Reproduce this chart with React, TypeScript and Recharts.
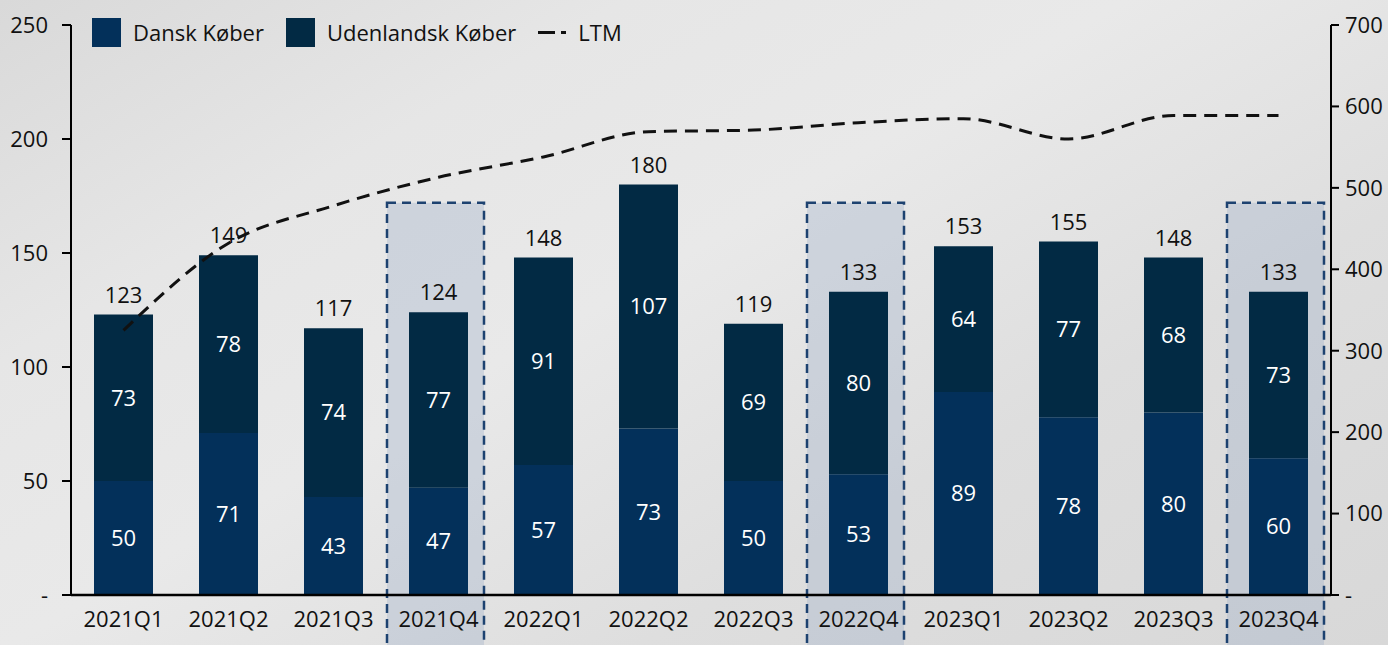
import { ComposedChart, Bar, Line, XAxis, YAxis, ReferenceArea, LabelList } from 'recharts';

const quarters = ['2021Q1', '2021Q2', '2021Q3', '2021Q4', '2022Q1', '2022Q2', '2022Q3', '2022Q4', '2023Q1', '2023Q2', '2023Q3', '2023Q4'];
const danskKober = [50, 71, 43, 47, 57, 73, 50, 53, 89, 78, 80, 60];
const udenlandskKober = [73, 78, 74, 77, 91, 107, 69, 80, 64, 77, 68, 73];
const ltm = [325, 432, 478, 513, 538, 569, 571, 580, 585, 560, 589, 589];
const highlighted = ['2021Q4', '2022Q4', '2023Q4'];
const highlightTop = 172;
const highlightBottom = -30;
const leftTicks = [0, 50, 100, 150, 200, 250];
const rightTicks = [0, 100, 200, 300, 400, 500, 600, 700];

const data = quarters.map((q, i) => ({
    quarter: q,
    dansk: danskKober[i],
    udenlandsk: udenlandskKober[i],
    total: danskKober[i] + udenlandskKober[i],
    ltm: ltm[i],
}));

const DANSK = '#03305a';
const UDENLANDSK = '#022a44';
const FONT = '"Open Sans", "Noto Sans", sans-serif';
const FS = 22;

const HighlightShape = (props: any) => {
    const { x, y, width, height } = props;
    return (
        <rect
            x={x + 1}
            y={y}
            width={width - 8}
            height={height}
            fill="#9fb0c8"
            fillOpacity={0.35}
            stroke="#1d4270"
            strokeWidth={2.5}
            strokeDasharray="9 6"
        />
    );
};

const zeroDash = (v: number) => (v === 0 ? '-' : String(v));

const legendItem = { display: 'flex', alignItems: 'center', marginRight: 22 } as const;

const App = () => {
    return (
        <div
            style={{
                position: 'absolute',
                left: 0,
                top: 0,
                width: 1388,
                height: 645,
                overflow: 'hidden',
                fontFamily: FONT,
                background:
                    'linear-gradient(150deg, #d9d9d9 0%, #e6e6e6 25%, #e9e9e9 45%, #dedede 70%, #d8d8d8 100%)',
            }}
        >
            <ComposedChart
                width={1388}
                height={645}
                data={data}
                barCategoryGap={0}
                margin={{ top: 25, right: 0, bottom: 0, left: 0 }}
            >
                {highlighted.map((q) => (
                    <ReferenceArea
                        key={q}
                        yAxisId="left"
                        x1={q}
                        x2={q}
                        y1={highlightBottom}
                        y2={highlightTop}
                        ifOverflow="visible"
                        shape={HighlightShape}
                    />
                ))}
                <XAxis
                    dataKey="quarter"
                    height={50}
                    tickLine={false}
                    tickSize={0}
                    tickMargin={16}
                    axisLine={{ stroke: '#000', strokeWidth: 2.5 }}
                    tick={{ fill: '#111', fontSize: FS }}
                    interval={0}
                />
                <YAxis
                    yAxisId="left"
                    width={71}
                    domain={[0, 250]}
                    ticks={leftTicks}
                    tickFormatter={zeroDash}
                    tickSize={9}
                    tickMargin={14}
                    axisLine={{ stroke: '#000', strokeWidth: 2 }}
                    tickLine={{ stroke: '#000', strokeWidth: 2 }}
                    tick={{ fill: '#111', fontSize: FS }}
                />
                <YAxis
                    yAxisId="right"
                    orientation="right"
                    width={57}
                    domain={[0, 700]}
                    ticks={rightTicks}
                    tickFormatter={zeroDash}
                    tickSize={8}
                    tickMargin={6}
                    axisLine={{ stroke: '#000', strokeWidth: 2 }}
                    tickLine={{ stroke: '#000', strokeWidth: 2 }}
                    tick={{ fill: '#111', fontSize: FS, textAnchor: 'start' }}
                />
                <Bar yAxisId="left" dataKey="dansk" stackId="a" fill={DANSK} barSize={59} isAnimationActive={false}>
                    <LabelList dataKey="dansk" position="center" fill="#fff" fontSize={FS} />
                </Bar>
                <Bar yAxisId="left" dataKey="udenlandsk" stackId="a" fill={UDENLANDSK} barSize={59} isAnimationActive={false}>
                    <LabelList dataKey="udenlandsk" position="center" fill="#fff" fontSize={FS} />
                    <LabelList dataKey="total" position="top" offset={12} fill="#111" fontSize={FS} />
                </Bar>
                <Line
                    yAxisId="right"
                    type="monotone"
                    dataKey="ltm"
                    stroke="#111"
                    strokeWidth={3}
                    strokeDasharray="13 8"
                    dot={false}
                    activeDot={false}
                    isAnimationActive={false}
                />
            </ComposedChart>
            <div
                style={{
                    position: 'absolute',
                    left: 92,
                    top: 17,
                    display: 'flex',
                    alignItems: 'center',
                    fontSize: FS,
                    color: '#111',
                }}
            >
                <div style={legendItem}>
                    <span style={{ width: 29, height: 29, background: DANSK, marginRight: 12 }} />
                    Dansk Køber
                </div>
                <div style={legendItem}>
                    <span style={{ width: 29, height: 29, background: UDENLANDSK, marginRight: 12 }} />
                    Udenlandsk Køber
                </div>
                <div style={legendItem}>
                    <span style={{ width: 17, height: 3, background: '#111', marginRight: 6 }} />
                    <span style={{ width: 5, height: 3, background: '#111', marginRight: 12 }} />
                    LTM
                </div>
            </div>
        </div>
    );
};

export default App;
